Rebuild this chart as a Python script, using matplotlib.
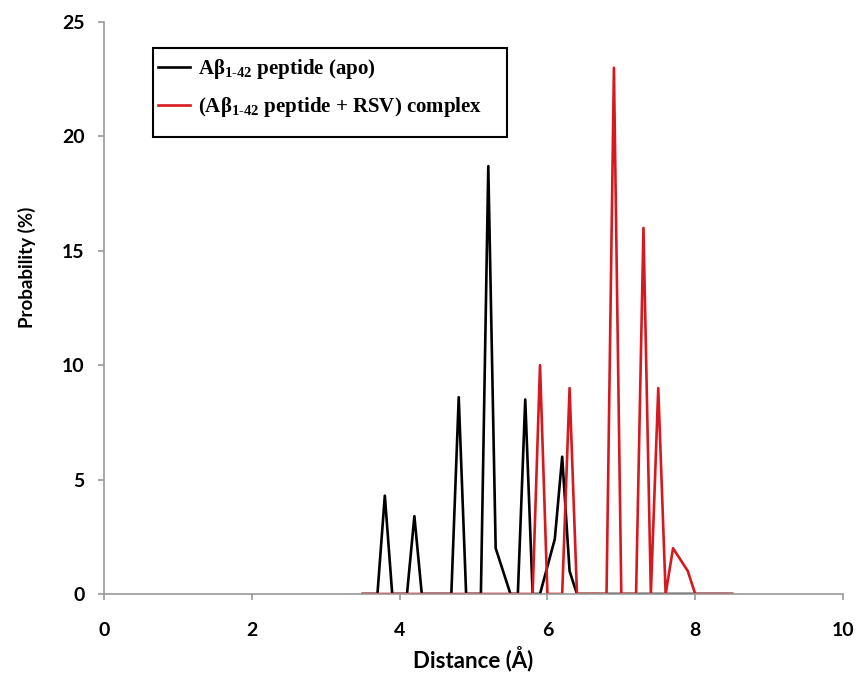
import numpy as np
import matplotlib
matplotlib.use("Agg")
import matplotlib.pyplot as plt
from matplotlib.patches import Rectangle

# distance grid (Å), 0.1 step from 3.5 to 8.5
distance = np.round(np.arange(3.5, 8.51, 0.1), 1)

# probability (%) at the non-zero bins
apo_points = {3.8: 4.3, 4.2: 3.4, 4.8: 8.6, 5.2: 18.7, 5.3: 2.0, 5.4: 1.0,
              5.7: 8.5, 6.0: 1.2, 6.1: 2.4, 6.2: 6.0, 6.3: 1.0}
complex_points = {5.9: 10.0, 6.3: 9.0, 6.9: 23.0, 7.3: 16.0, 7.5: 9.0,
                  7.7: 2.0, 7.8: 1.5, 7.9: 1.0}

apo = [apo_points.get(d, 0.0) for d in distance]
cmplx = [complex_points.get(d, 0.0) for d in distance]

label_apo = "A\u03b2$_{\\mathbf{1\u201042}}$ peptide (apo)"
label_cmplx = "(A\u03b2$_{\\mathbf{1\u201042}}$ peptide + RSV) complex"

plt.rcParams["mathtext.fontset"] = "custom"
plt.rcParams["mathtext.bf"] = "Liberation Serif:bold"
plt.rcParams["mathtext.rm"] = "Liberation Serif:bold"

fig = plt.figure(figsize=(8.61, 6.84), dpi=100)
ax = fig.add_axes([0.1208, 0.1316, 0.8583, 0.8362])

ax.plot(distance, apo, color="black", linewidth=1.9, label=label_apo)
ax.plot(distance, cmplx, color="#d7191f", linewidth=1.9, label=label_cmplx)

ax.set_xlim(0, 10)
ax.set_ylim(0, 25)
ax.set_xticks(range(0, 11, 2))
ax.set_yticks(range(0, 26, 5))

for s in ["top", "right"]:
    ax.spines[s].set_visible(False)
for s in ["left", "bottom"]:
    ax.spines[s].set_color("#9a9a9a")
    ax.spines[s].set_linewidth(1.2)
ax.tick_params(direction="out", length=4, width=1.2, color="#9a9a9a", labelsize=14)
ax.tick_params(axis="y", pad=10)
ax.tick_params(axis="x", pad=16)
for lab in ax.get_xticklabels() + ax.get_yticklabels():
    lab.set_fontfamily("Lato")
    lab.set_fontweight("bold")

ax.set_xlabel("Distance (Å)", fontsize=16, fontfamily="Lato", fontweight="bold", labelpad=5)
ax.set_ylabel("Probability (%)", fontsize=13.5, fontfamily="Lato", fontweight="bold")
ax.yaxis.set_label_coords(-0.092, 0.572)

leg = ax.legend(loc="upper left", bbox_to_anchor=(0.0729, 0.939), frameon=False,
                borderaxespad=0, borderpad=0, handlelength=1.55,
                handletextpad=0.38, labelspacing=0.67,
                prop={"family": "Liberation Serif", "weight": "bold", "size": 15})

# legend box (Excel style, extra room under the entries)
ax.add_patch(Rectangle((0.0661, 0.799), 0.479, 0.1556, transform=ax.transAxes,
                       fill=False, edgecolor="black", linewidth=1.5, clip_on=False))

fig.savefig("out.png", dpi=100)
